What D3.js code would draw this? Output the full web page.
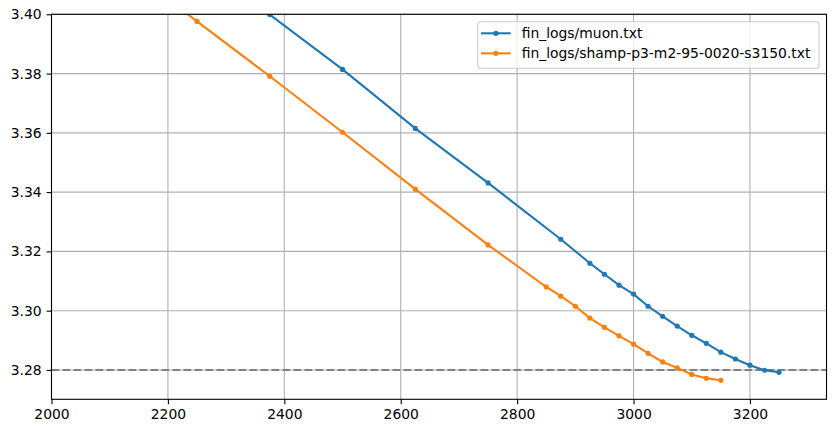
<!DOCTYPE html>
<html>
<head>
<meta charset="utf-8">
<script src="https://cdn.jsdelivr.net/npm/d3@7"></script>
<style>
  body { margin: 0; background: #fff; }
  text { font-family: "DejaVu Sans", sans-serif; }
</style>
</head>
<body>
<div id="chart"></div>
<script>
// -----------------------
// Data
// -----------------------
const muonSteps = [2250, 2375, 2500, 2625, 2750, 2875, 2925, 2950, 2975, 3000, 3025, 3050, 3075, 3100, 3125, 3150, 3175, 3200, 3225, 3250];
const muonLoss = [3.4195, 3.3999, 3.3814, 3.3615, 3.3431, 3.3241, 3.3160, 3.3123, 3.3086, 3.3056, 3.3015, 3.2981, 3.2948, 3.2917, 3.2890, 3.2860, 3.2837, 3.2816, 3.2799, 3.2792];

const shampSteps = [2125, 2250, 2375, 2500, 2625, 2750, 2850, 2875, 2900, 2925, 2950, 2975, 3000, 3025, 3050, 3075, 3100, 3125, 3150];
const shampLoss = [3.4165, 3.3976, 3.3791, 3.3602, 3.3410, 3.3222, 3.3080, 3.3049, 3.3015, 3.2975, 3.2944, 3.2915, 3.2887, 3.2856, 3.2827, 3.2807, 3.2785, 3.2772, 3.2765];

const seriesNames = ["fin_logs/muon.txt", "fin_logs/shamp-p3-m2-95-0020-s3150.txt"];
const seriesColors = ["#1f77b4", "#ff7f0e"];
const xTicks = [2000, 2200, 2400, 2600, 2800, 3000, 3200];
const yTicks = [3.28, 3.30, 3.32, 3.34, 3.36, 3.38, 3.40];
const refLine = 3.28;

const series = [
  { name: seriesNames[0], color: seriesColors[0], pts: muonSteps.map((s, i) => [s, muonLoss[i]]) },
  { name: seriesNames[1], color: seriesColors[1], pts: shampSteps.map((s, i) => [s, shampLoss[i]]) }
];

// -----------------------
// Layout
// -----------------------
const width = 835, height = 433;
const margin = { top: 14.3, right: 8.5, bottom: 33.7, left: 51.5 };
const w = width - margin.left - margin.right;
const h = height - margin.top - margin.bottom;
const fontSize = 13.9;

const svg = d3.select("#chart").append("svg")
  .attr("width", width)
  .attr("height", height);

const g = svg.append("g")
  .attr("transform", `translate(${margin.left},${margin.top})`);

const x = d3.scaleLinear().domain([2000, 3331.5]).range([0, w]);
const y = d3.scaleLinear().domain([3.2701, 3.40]).range([h, 0]);

svg.append("defs").append("clipPath").attr("id", "clip")
  .append("rect").attr("width", w).attr("height", h);

// Grid
g.append("g").selectAll("line").data(xTicks).join("line")
  .attr("x1", d => x(d)).attr("x2", d => x(d))
  .attr("y1", 0).attr("y2", h)
  .attr("stroke", "#b0b0b0").attr("stroke-width", 1.1);

g.append("g").selectAll("line").data(yTicks).join("line")
  .attr("y1", d => y(d)).attr("y2", d => y(d))
  .attr("x1", 0).attr("x2", w)
  .attr("stroke", "#b0b0b0").attr("stroke-width", 1.1);

// Reference line
g.append("line")
  .attr("x1", 0).attr("x2", w)
  .attr("y1", y(refLine)).attr("y2", y(refLine))
  .attr("stroke", "#808080").attr("stroke-width", 2.08)
  .attr("stroke-dasharray", "7.7,3.3");

// Series
const plot = g.append("g").attr("clip-path", "url(#clip)");
const line = d3.line().x(d => x(d[0])).y(d => y(d[1]));

series.forEach(s => {
  plot.append("path")
    .datum(s.pts)
    .attr("fill", "none")
    .attr("stroke", s.color)
    .attr("stroke-width", 2.08)
    .attr("d", line);

  plot.selectAll(null).data(s.pts).join("circle")
    .attr("cx", d => x(d[0]))
    .attr("cy", d => y(d[1]))
    .attr("r", 2.6)
    .attr("fill", s.color);
});

// Axes
const xAxis = g.append("g")
  .attr("transform", `translate(0,${h})`)
  .call(d3.axisBottom(x).tickValues(xTicks).tickSize(4.9).tickPadding(4.9).tickFormat(d3.format("d")));

const yAxis = g.append("g")
  .call(d3.axisLeft(y).tickValues(yTicks).tickSize(4.9).tickPadding(4.9).tickFormat(d3.format(".2f")));

[xAxis, yAxis].forEach(a => {
  a.select(".domain").remove();
  a.selectAll(".tick line").attr("stroke", "#000").attr("stroke-width", 1.1);
  a.selectAll(".tick text")
    .attr("fill", "#000")
    .style("font-size", fontSize + "px")
    .style("font-family", "DejaVu Sans");
});

// Spines
g.append("rect")
  .attr("width", w).attr("height", h)
  .attr("fill", "none").attr("stroke", "#000").attr("stroke-width", 1.1);

// Legend
const legX = 477.7 - margin.left, legY = 21.7 - margin.top;
const legend = g.append("g").attr("transform", `translate(${legX},${legY})`);
legend.append("rect")
  .attr("width", 341.3).attr("height", 46.6)
  .attr("rx", 2.8)
  .attr("fill", "#fff").attr("fill-opacity", 0.8)
  .attr("stroke", "#cccccc").attr("stroke-width", 1.1);

series.forEach((s, i) => {
  const ly = 11.6 + i * 20;
  legend.append("line")
    .attr("x1", 3.3).attr("x2", 33)
    .attr("y1", ly).attr("y2", ly)
    .attr("stroke", s.color).attr("stroke-width", 2.08);
  legend.append("circle")
    .attr("cx", 18.2).attr("cy", ly).attr("r", 2.6)
    .attr("fill", s.color);
  legend.append("text")
    .attr("x", 44)
    .attr("y", ly)
    .attr("dy", "0.36em")
    .style("font-size", fontSize + "px")
    .attr("fill", "#000")
    .text(s.name);
});
</script>
</body>
</html>
